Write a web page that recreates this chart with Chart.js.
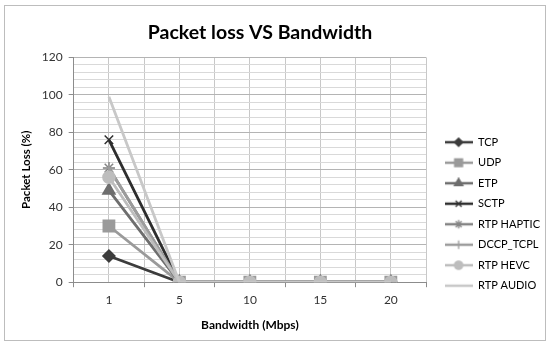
<!DOCTYPE html>
<html>
<head>
<meta charset="utf-8">
<script src="https://cdn.jsdelivr.net/npm/chart.js@4.4.0/dist/chart.umd.min.js"></script>
<style>
body { margin: 0; background: #fff; }
#wrap { position: relative; width: 550px; height: 346px; }
#frame { position: absolute; left: 4px; top: 5px; width: 540px; height: 334px; border: 1px solid #bdbdbd; }
canvas { position: absolute; left: 0; top: 0; }
</style>
</head>
<body>
<div id="wrap">
  <div id="frame"></div>
  <canvas id="chart" width="550" height="346"></canvas>
</div>
<script>
const bandwidth = ['1', '5', '10', '15', '20'];
const yTicks = [0, 20, 40, 60, 80, 100, 120];

const tcp = [14, 0, 0, 0, 0];
const udp = [30, 0, 0, 0, 0];
const etp = [49, 0, 0, 0, 0];
const sctp = [76, 0, 0, 0, 0];
const rtpHaptic = [61, 0, 0, 0, 0];
const dccpTcpl = [61, 0, 0, 0, 0];
const rtpHevc = [56, 0, 0, 0, 0];
const rtpAudio = [99, 0, 0, 0, 0];

const font = 'Lato, "Liberation Sans", sans-serif';

// line + marker icon for the legend, like Excel draws it
function makeIcon(color, style, radius) {
    const c = document.createElement('canvas');
    c.width = 28;
    c.height = 12;
    const g = c.getContext('2d');
    g.strokeStyle = color;
    g.fillStyle = color;
    g.lineWidth = 2.5;
    g.beginPath();
    g.moveTo(0, 6);
    g.lineTo(28, 6);
    g.stroke();
    if (style) {
        g.lineWidth = 1.3;
        Chart.helpers.drawPoint(g, { pointStyle: style, radius: radius, rotation: 0, borderWidth: 1.3 }, 14, 6);
    }
    return c;
}

function series(label, data, color, style, radius) {
    return {
        label: label,
        data: data,
        borderColor: color,
        backgroundColor: color,
        borderWidth: 2.8,
        pointStyle: style || 'circle',
        pointRadius: style ? radius : 0,
        pointBorderWidth: 1.5,
        pointHoverRadius: style ? radius : 0,
        legendIcon: makeIcon(color, style, radius * 0.7),
        tension: 0
    };
}

const datasets = [
    series('TCP', tcp, '#3c3c3c', 'rectRot', 6),
    series('UDP', udp, '#9a9a9a', 'rect', 8),
    series('ETP', etp, '#6e6e6e', 'triangle', 7),
    series('SCTP', sctp, '#2e2e2e', 'crossRot', 6),
    series('RTP HAPTIC', rtpHaptic, '#848484', 'star', 6),
    series('DCCP_TCPL', dccpTcpl, '#9c9c9c', 'cross', 6),
    series('RTP HEVC', rtpHevc, '#bdbdbd', 'circle', 6),
    series('RTP AUDIO', rtpAudio, '#c8c8c8', null, 0)
];
// later series on top, as in Excel
datasets.forEach(function (d, i) { d.order = datasets.length - i; });

const nudge = {
    id: 'nudge',
    afterLayout: function (chart) {
        chart.titleBlock.left = 0;
        chart.titleBlock.right = 520;
        chart.legend.top += 42;
        chart.legend.bottom += 42;
        chart.legend.left += 9;
        chart.legend.right += 9;
    }
};

new Chart(document.getElementById('chart'), {
    type: 'line',
    data: { labels: bandwidth, datasets: datasets },
    plugins: [nudge],
    options: {
        responsive: false,
        animation: false,
        layout: { padding: { left: 19, right: 9, top: 8, bottom: 10 } },
        plugins: {
            title: {
                display: true,
                text: 'Packet loss VS Bandwidth',
                color: '#000',
                font: { family: font, size: 19.5, weight: 'bold' },
                padding: { top: 13, bottom: 13 }
            },
            legend: {
                position: 'right',
                labels: {
                    usePointStyle: true,
                    pointStyleWidth: 28,
                    padding: 9.5,
                    color: '#000',
                    font: { family: font, size: 11 },
                    sort: function (a, b) { return a.datasetIndex - b.datasetIndex; },
                    generateLabels: function (chart) {
                        return chart.data.datasets.map(function (d, i) {
                            return {
                                text: d.label,
                                pointStyle: d.legendIcon,
                                fillStyle: d.borderColor,
                                strokeStyle: d.borderColor,
                                lineWidth: 0,
                                datasetIndex: i,
                                hidden: false
                            };
                        });
                    }
                }
            },
            tooltip: { enabled: false }
        },
        scales: {
            x: {
                offset: true,
                grid: { offset: true, color: '#c8c8c8', tickColor: '#8c8c8c', tickLength: 5 },
                border: { color: '#8c8c8c' },
                ticks: { color: '#333', font: { family: font, size: 12 }, padding: 6 },
                title: {
                    display: true,
                    text: 'Bandwidth (Mbps)',
                    color: '#000',
                    font: { family: font, size: 12, weight: 'bold' },
                    padding: { top: 4 }
                }
            },
            xc: {
                type: 'category',
                labels: bandwidth,
                position: 'bottom',
                offset: true,
                grid: { offset: false, color: '#c8c8c8', drawTicks: false },
                border: { display: false },
                ticks: { display: false }
            },
            y: {
                min: 0,
                max: 120,
                afterBuildTicks: function (axis) {
                    const t = [];
                    for (let v = 0; v <= 120; v += 4) t.push({ value: v });
                    axis.ticks = t;
                },
                grid: {
                    color: function (c) { return yTicks.includes(c.tick.value) ? '#b4b4b4' : '#d9d9d9'; },
                    tickColor: function (c) { return yTicks.includes(c.tick.value) ? '#8c8c8c' : 'rgba(0,0,0,0)'; },
                    tickLength: 5
                },
                border: { color: '#8c8c8c' },
                ticks: {
                    autoSkip: false,
                    color: '#333',
                    font: { family: font, size: 12 },
                    padding: 6,
                    callback: function (v) { return yTicks.includes(v) ? v : ''; }
                },
                title: {
                    display: true,
                    text: 'Packet Loss (%)',
                    color: '#000',
                    font: { family: font, size: 11.5, weight: 'bold' },
                    padding: { top: 0, bottom: 3 }
                }
            }
        }
    }
});
</script>
</body>
</html>
